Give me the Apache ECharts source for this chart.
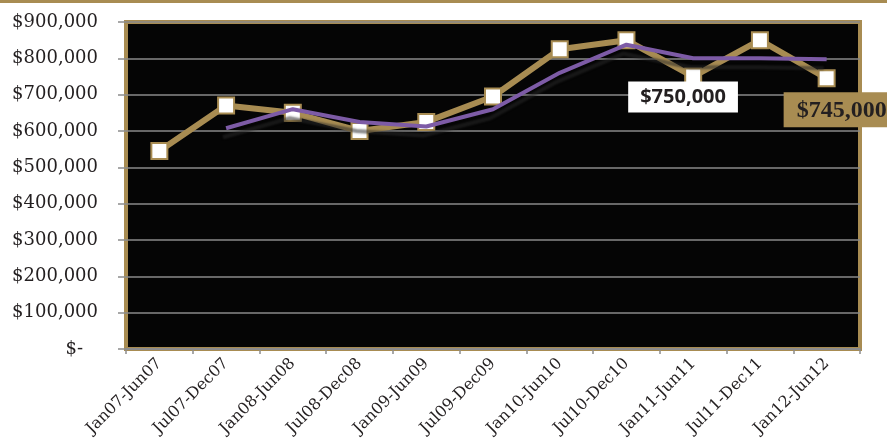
<!DOCTYPE html>
<html>
<head>
<meta charset="utf-8">
<script src="https://cdn.jsdelivr.net/npm/echarts@6/dist/echarts.min.js"></script>
<style>
html, body { margin: 0; padding: 0; background: #fff; }
#main { width: 887px; height: 442px; }
</style>
</head>
<body>
<div id="main"></div>
<script>
var categories = ['Jan07-Jun07', 'Jul07-Dec07', 'Jan08-Jun08', 'Jul08-Dec08', 'Jan09-Jun09', 'Jul09-Dec09',
    'Jan10-Jun10', 'Jul10-Dec10', 'Jan11-Jun11', 'Jul11-Dec11', 'Jan12-Jun12'];
var medianPrice = [545000, 670000, 650000, 600000, 625000, 695000, 825000, 850000, 750000, 850000, 745000];
// 2-period moving average (purple line)
var movingAvg = [null, 607500, 660000, 625000, 612500, 660000, 760000, 837500, 800000, 800000, 797500];
var yTicks = [0, 100000, 200000, 300000, 400000, 500000, 600000, 700000, 800000, 900000];

var gold = '#a88c52';

function money(v) {
    return '$' + v.toLocaleString('en-US');
}

var priceData = medianPrice.map(function (v, i) {
    var item = { value: v };
    if (i == 8) {
        item.label = {
            show: true,
            position: [-56, 14],
            formatter: money(v),
            backgroundColor: '#ffffff',
            color: '#231f20',
            fontFamily: 'Open Sans',
            fontWeight: 'bold',
            fontSize: 20,
            padding: [6, 12, 5, 12]
        };
    }
    if (i == 10) {
        item.label = {
            show: true,
            position: [-34, 23],
            formatter: money(v),
            backgroundColor: gold,
            color: '#231f20',
            fontFamily: 'Liberation Serif',
            fontWeight: 'bold',
            fontSize: 24,
            padding: [6, 20, 5, 13]
        };
    }
    return item;
});

var myChart = echarts.init(document.getElementById('main'), null, { renderer: 'canvas' });
var option = {
    animation: false,
    backgroundColor: '#ffffff',
    graphic: [{
        type: 'rect',
        left: 0,
        top: 0,
        shape: { width: 887, height: 3 },
        style: { fill: gold }
    }],
    grid: {
        left: 126,
        right: 27,
        top: 22,
        bottom: 93,
        show: true,
        backgroundColor: '#050505',
        borderColor: gold,
        borderWidth: 4,
        outerBoundsMode: 'none'
    },
    xAxis: {
        type: 'category',
        data: categories,
        boundaryGap: true,
        offset: 2,
        axisLine: { show: true, lineStyle: { color: '#8c8c8c', width: 2 } },
        axisTick: { show: true, alignWithLabel: false, length: 5, lineStyle: { color: '#8c8c8c', width: 1.5 } },
        axisLabel: {
            rotate: 45,
            interval: 0,
            margin: 10,
            fontFamily: 'DejaVu Serif',
            fontSize: 16,
            color: '#231f20'
        },
        splitLine: { show: false }
    },
    yAxis: {
        type: 'value',
        min: 0,
        max: 900000,
        interval: 100000,
        axisLine: { show: false },
        axisTick: { show: true, length: 8, lineStyle: { color: '#8c8c8c', width: 1.5 } },
        axisLabel: {
            margin: 28,
            fontFamily: 'DejaVu Serif',
            fontSize: 18,
            color: '#231f20',
            formatter: function (v) {
                if (yTicks.indexOf(v) < 0) return '';
                return v == 0 ? '{z|$-}' : money(v);
            },
            rich: {
                z: { fontFamily: 'DejaVu Serif', fontSize: 18, color: '#231f20', padding: [0, 15, 0, 0] }
            }
        },
        splitLine: { show: true, lineStyle: { color: '#8a8a8a', width: 1.5 } }
    },
    series: [
        {
            name: 'Median Price',
            type: 'line',
            data: priceData,
            symbol: 'rect',
            symbolSize: 16,
            z: 3,
            lineStyle: { color: gold, width: 6 },
            itemStyle: { color: '#ffffff', borderColor: gold, borderWidth: 2 },
            label: { show: false }
        },
        {
            name: 'Moving Average',
            type: 'line',
            data: movingAvg,
            symbol: 'none',
            z: 4,
            lineStyle: {
                color: '#7d5ba6',
                width: 4,
                shadowColor: 'rgba(40,40,40,0.55)',
                shadowBlur: 2,
                shadowOffsetX: -3,
                shadowOffsetY: 9
            }
        }
    ]
};
myChart.setOption(option);
</script>
</body>
</html>
